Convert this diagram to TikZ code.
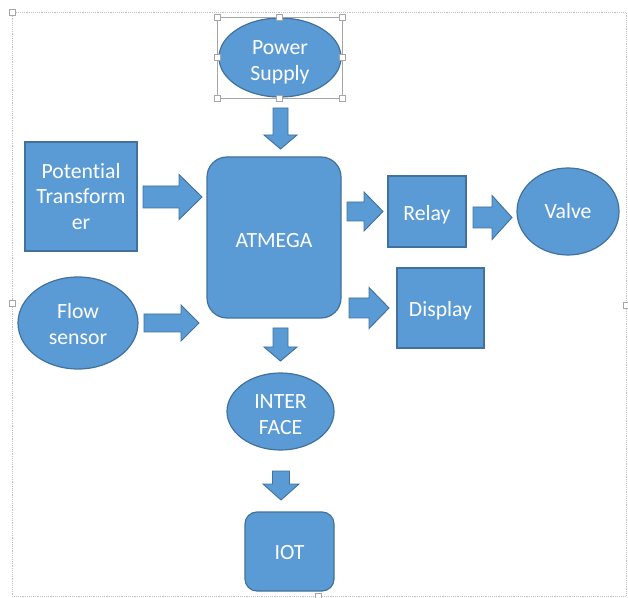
\documentclass[tikz,border=0pt]{standalone}
\usepackage{fontspec}
\setmainfont{Carlito}[Ligatures=NoCommon]
\usetikzlibrary{shapes.geometric}
\definecolor{boxfill}{HTML}{5B9BD5}
\definecolor{boxline}{HTML}{41719C}
\definecolor{selgray}{HTML}{A6A6A6}
\tikzset{
  shp/.style={draw=boxline, fill=boxfill, line width=0.9pt, inner sep=0pt},
  txt/.style={text=white, align=center, inner sep=0pt, font=\fontsize{16.3pt}{19.4pt}\selectfont},
  ell/.style={shp, ellipse},
  box/.style={shp, rectangle},
  rbox/.style={shp, rectangle, rounded corners=#1},
  lbl/.style args={#1/#2}{label={[txt, yshift=#1]center:#2}},
  barrow/.style={draw=boxline, fill=boxfill, line width=0.7pt, line join=miter},
  handle/.style={draw=selgray, fill=white, line width=0.4pt, minimum size=4.5pt, inner sep=0pt, rectangle}
}
\newcommand{\barR}[6]{\draw[barrow] (#1,#4-#5) -- (#3,#4-#5) -- (#3,#4-#6) -- (#2,#4) -- (#3,#4+#6) -- (#3,#4+#5) -- (#1,#4+#5) -- cycle;}
\newcommand{\barD}[6]{\draw[barrow] (#4-#5,#1) -- (#4-#5,#3) -- (#4-#6,#3) -- (#4,#2) -- (#4+#6,#3) -- (#4+#5,#3) -- (#4+#5,#1) -- cycle;}
\begin{document}
\begin{tikzpicture}[x=0.75pt,y=-0.75pt]
\useasboundingbox (0,0) rectangle (628,598);
% outer dotted frame
\draw[selgray!70, densely dotted, line width=0.4pt] (12,12) rectangle (626,596);
\node[handle] (h1) at (12,12) {};
\node[handle] (h2) at (12,303) {};
\node[handle] (h3) at (626,305) {};
\node[handle] (h4) at (318,596) {};
% nodes
\node[ell, minimum width=122*0.75pt, minimum height=79*0.75pt, lbl={-3.6pt/{Power\\Supply}}] (ps) at (280,57.5) {};
\node[box, minimum width=112*0.75pt, minimum height=109*0.75pt, lbl={0pt/{Potential\\Transform\\er}}] (pt) at (81,196.5) {};
\node[rbox=15pt, minimum width=134*0.75pt, minimum height=161*0.75pt, lbl={-2.3pt/{ATMEGA}}] (at) at (274,237.5) {};
\node[box, minimum width=78*0.75pt, minimum height=71*0.75pt, lbl={-2.3pt/{Relay}}] (re) at (427,211.5) {};
\node[ell, minimum width=102*0.75pt, minimum height=87*0.75pt, lbl={0pt/{Valve}}] (va) at (568,211.5) {};
\node[box, minimum width=87*0.75pt, minimum height=80*0.75pt, lbl={-2.3pt/{Display}}] (di) at (440.5,308) {};
\node[ell, minimum width=120*0.75pt, minimum height=92*0.75pt, lbl={-1pt/{Flow\\sensor}}] (fs) at (78,323) {};
\node[ell, minimum width=107*0.75pt, minimum height=77*0.75pt, lbl={-2.5pt/{INTER\\FACE}}] (if) at (280.5,411.5) {};
\node[rbox=9pt, minimum width=89*0.75pt, minimum height=79*0.75pt, lbl={-1pt/{IOT}}] (io) at (289.5,551.5) {};
% selection box around Power Supply
\draw[selgray, line width=0.5pt] (217,17) rectangle (342,98);
\foreach \hx/\hy [count=\i] in {217/17,279.5/17,342/17,217/57.5,342/57.5,217/98,279.5/98,342/98}
  \node[handle] (s\i) at (\hx,\hy) {};
% block arrows
\barD{108}{149}{135}{280.5}{7.5}{16.5}
\barR{143}{202}{179}{197}{11}{22.5}
\barR{144}{199}{181}{323}{9}{18}
\barR{347}{383}{364}{211.5}{9.5}{19.5}
\barR{473}{512}{492}{217.5}{10.5}{22}
\barR{349}{389}{369}{308}{10}{20.5}
\barD{328}{361}{347}{280.5}{7.5}{16.5}
\barD{471}{500}{484}{281}{8.5}{18}
\end{tikzpicture}
\end{document}
